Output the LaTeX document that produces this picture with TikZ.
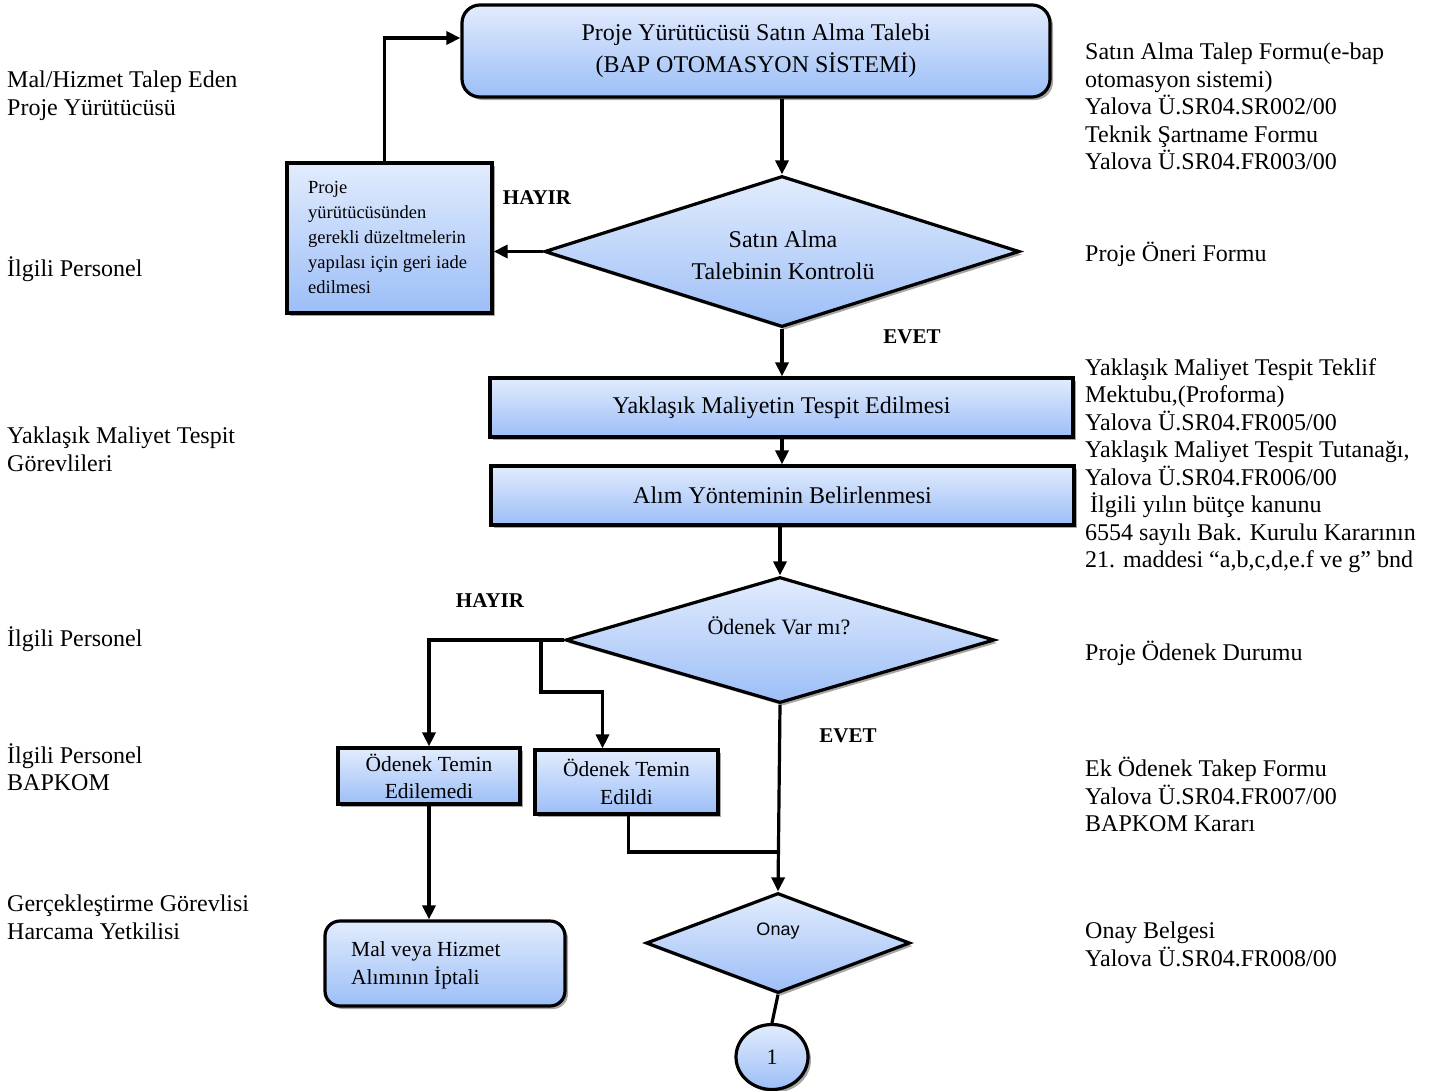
\documentclass[tikz,border=0pt]{standalone}
\usepackage{fontspec}
\setmainfont{Liberation Serif}
\newfontfamily\arialfont{Liberation Sans}
\usetikzlibrary{shapes.geometric,shadows,arrows.meta,calc}
\definecolor{ftop}{RGB}{226,236,253}
\definecolor{fbot}{RGB}{156,190,247}
\tikzset{
 box/.style={draw=black, line width=3.2pt, top color=ftop, bottom color=fbot,
   drop shadow={shadow xshift=3pt, shadow yshift=-3pt, opacity=0.35, fill=black},
   inner sep=0pt, font=\fontsize{24}{27.5}\selectfont, align=center},
 dia/.style={box, shape=diamond},
 arr/.style={line width=3.2pt, -{Triangle[length=14pt,width=13pt]}},
 ln/.style={line width=3.2pt},
 lbl/.style={font=\fontsize{24}{27.5}\selectfont, align=left, anchor=north west, inner sep=0pt},
 yn/.style={font=\fontsize{21}{24}\selectfont\bfseries, inner sep=0pt},
}
\begin{document}
\begin{tikzpicture}[x=1pt,y=-1pt]
\useasboundingbox (0,0) rectangle (1432,1090);
\fill[white] (0,0) rectangle (1432,1090);

% boxes
\node[box, rounded corners=18pt, minimum width=588pt, minimum height=92pt, font=\fontsize{24}{32}\selectfont] (top) at (756,51) {Proje Yürütücüsü Satın Alma Talebi\\(BAP OTOMASYON SİSTEMİ)};
\node[dia, minimum width=475pt, minimum height=151pt, aspect=3.1] (d1) at (782,251.5) {};
\node[inner sep=0pt, font=\fontsize{24}{32}\selectfont, align=center] (d1t) at (783,255) {Satın Alma\\Talebinin Kontrolü};
\node[box, minimum width=205pt, minimum height=150pt] (fix) at (389.5,238) {};
\node[inner sep=0pt, anchor=west, align=left, font=\fontsize{18.5}{25}\selectfont] (fixt) at (308,237) {Proje\\yürütücüsünden\\gerekli düzeltmelerin\\yapılası için geri iade\\edilmesi};
\node[box, minimum width=583pt, minimum height=59pt] (b2) at (781.5,407.5) {Yaklaşık Maliyetin Tespit Edilmesi};
\node[box, minimum width=583pt, minimum height=59pt] (b3) at (782.5,495.5) {Alım Yönteminin Belirlenmesi};
\node[dia, minimum width=429pt, minimum height=126pt, aspect=3.4] (d2) at (780,640) {};
\node[inner sep=0pt, font=\fontsize{22}{24}\selectfont] (d2t) at (779,626) {Ödenek Var mı?};
\node[box, minimum width=182pt, minimum height=56pt, font=\fontsize{21.5}{27}\selectfont] (b4) at (429,776) {Ödenek Temin\\Edilemedi};
\node[box, minimum width=183pt, minimum height=64pt, font=\fontsize{21.5}{28}\selectfont] (b5) at (626.5,782) {Ödenek Temin\\Edildi};
\node[box, rounded corners=15pt, minimum width=240pt, minimum height=85pt] (b6) at (445,963.5) {};
\node[inner sep=0pt, anchor=west, align=left, font=\fontsize{21.5}{28}\selectfont] (b6t) at (351,965) {Mal veya Hizmet\\Alımının İptali};
\node[dia, minimum width=264pt, minimum height=100pt, aspect=2.6] (d3) at (778,943) {};
\node[inner sep=0pt, font=\arialfont\fontsize{18}{22}\selectfont] (d3t) at (778,931) {Onay};
\node[box, ellipse, minimum width=72pt, minimum height=65pt, font=\fontsize{22}{24}\selectfont] (c1) at (772,1057) {1};

% connectors
\draw[arr] (d1.north |- top.south) -- (d1.north);
\draw[arr] (d1.west) -- (d1.west -| fix.east);
\draw[arr] ([xshift=-5pt]fix.north) |- ([yshift=13pt]top.west);
\draw[arr] (d1.south) -- (d1.south |- b2.north);
\draw[arr] (b2.south -| d1.south) -- (b3.north -| d1.south);
\draw[arr] (d2.north |- b3.south) -- (d2.north);
\draw[arr] (d2.west) -| (b4.north);
\coordinate (br) at (541,638);
\draw[arr] (br) -- ++(0,54) -| ([xshift=-24pt]b5.north);
\draw[arr] (b4.south) -- (b4.south |- b6.north);
\draw[arr] (d2.south) -- (d3.north);
\coordinate (jn) at (778,852);
\draw[ln] ([xshift=2pt]b5.south) |- (jn);
\draw[ln] (d3.south) -- (c1.north);

% yes/no labels
\node[yn] (h1) at (537,198) {HAYIR};
\node[yn] (e1) at (912,337) {EVET};
\node[yn] (h2) at (490,601) {HAYIR};
\node[yn] (e2) at (848,736) {EVET};

% left labels
\node[lbl] (l1) at (7,71) {Mal/Hizmet Talep Eden\\Proje Yürütücüsü};
\node[lbl] (l2) at (7,256) {İlgili Personel};
\node[lbl] (l3) at (7,427) {Yaklaşık Maliyet Tespit\\Görevlileri};
\node[lbl] (l4) at (7,626) {İlgili Personel};
\node[lbl] (l5) at (7,743) {İlgili Personel\\BAPKOM};
\node[lbl] (l6) at (7,895) {Gerçekleştirme Görevlisi\\Harcama Yetkilisi};

% right labels
\node[lbl] (r1) at (1085,43) {Satın Alma Talep Formu(e-bap\\otomasyon sistemi)\\Yalova Ü.SR04.SR002/00\\Teknik Şartname Formu\\Yalova Ü.SR04.FR003/00};
\node[lbl] (r2) at (1085,242) {Proje Öneri Formu};
\node[lbl] (r3) at (1085,358) {Yaklaşık Maliyet Tespit Teklif\\Mektubu,(Proforma)\\Yalova Ü.SR04.FR005/00\\Yaklaşık Maliyet Tespit Tutanağı,\\Yalova Ü.SR04.FR006/00\\\hspace*{5pt}İlgili yılın bütçe kanunu\\6554 sayılı Bak. Kurulu Kararının\\21. maddesi “a,b,c,d,e.f ve g” bnd};
\node[lbl] (r4) at (1085,641) {Proje Ödenek Durumu};
\node[lbl] (r5) at (1085,757) {Ek Ödenek Takep Formu\\Yalova Ü.SR04.FR007/00\\BAPKOM Kararı};
\node[lbl] (r6) at (1085,922) {Onay Belgesi\\Yalova Ü.SR04.FR008/00};
\end{tikzpicture}
\end{document}
